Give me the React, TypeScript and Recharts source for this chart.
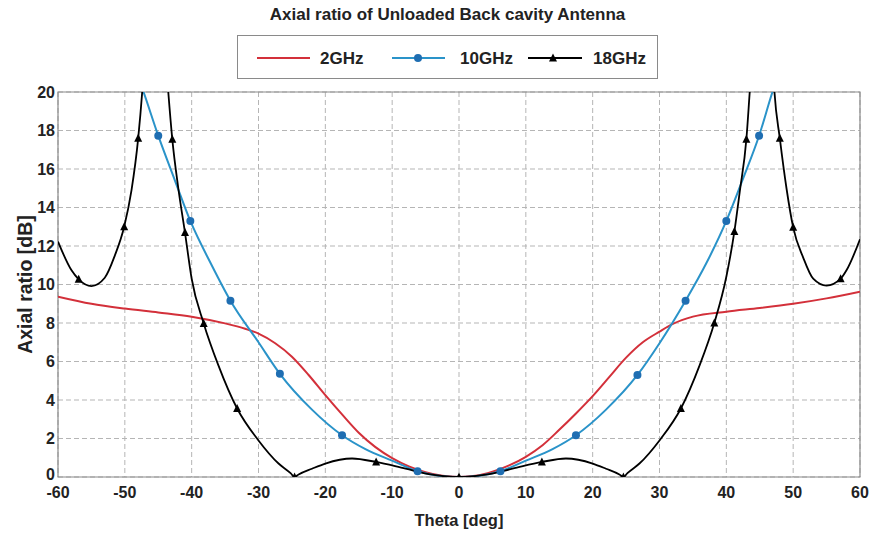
import React from "react";
import {
  LineChart,
  Line,
  XAxis,
  YAxis,
  CartesianGrid,
  ReferenceArea,
  Legend,
  Label,
} from "recharts";

// 2 GHz
const THETA_2G = [
  -60, -55, -50, -45, -40, -35, -32, -30, -27.5, -25, -22.5, -20, -17.5, -15, -12.5, -10, -7.5, -5, -2.5, 0,
  2.5, 5, 7.5, 10, 12.5, 15, 17.5, 20, 22.5, 25, 27.5, 30, 32, 35, 40, 45, 50, 55, 60,
];
const AR_2G = [
  9.37, 9.0, 8.75, 8.55, 8.33, 7.98, 7.7, 7.45, 6.95, 6.25, 5.3, 4.25, 3.25, 2.3, 1.55, 0.98, 0.55, 0.25, 0.06, 0,
  0.06, 0.27, 0.6, 1.05, 1.65, 2.45, 3.3, 4.2, 5.2, 6.2, 7.0, 7.55, 7.95, 8.33, 8.59, 8.78, 9.0, 9.28, 9.63,
];

// 10 GHz
const THETA_10G = [
  -50, -47.2, -45, -42.5, -40.2, -37, -34.2, -30, -26.8, -22, -17.5, -14, -10, -6.2, -3, 0,
  3, 6.2, 10, 14, 17.5, 22, 26.7, 30, 33.9, 37, 40, 42.5, 44.9, 46.9, 50,
];
const AR_10G = [
  22.6, 20, 17.73, 15.4, 13.3, 11.0, 9.16, 7.0, 5.36, 3.5, 2.17, 1.45, 0.85, 0.3, 0.07, 0,
  0.07, 0.3, 0.85, 1.45, 2.17, 3.5, 5.3, 6.95, 9.16, 11.1, 13.3, 15.5, 17.73, 20, 23,
];
const MARK_10G = [-45, -40.2, -34.2, -26.8, -17.5, -6.2, 6.2, 17.5, 26.7, 33.9, 40, 44.9];

// 18 GHz
const THETA_18G = [
  -60, -58, -56.9, -55, -53, -51.5, -50.1, -49, -48, -47.4, -46.5, -45.5, -44.5, -43.5, -42.9, -42, -41, -40,
  -38.2, -36, -33.2, -30, -27, -25.2, -24.6, -24, -22, -20, -16, -12.4, -8, -4, 0,
  4, 8, 12.4, 16, 20, 22, 24, 24.6, 25.2, 27, 30, 33.2, 36, 38.2, 40, 41.2, 42, 43, 43.5, 44.5, 45.5, 46.5,
  47.2, 48, 49, 50, 51.5, 53, 55, 57.1, 58, 60,
];
const AR_18G = [
  12.23, 10.75, 10.27, 9.92, 10.35, 11.5, 13.0, 14.9, 17.6, 20, 25, 32, 25, 20, 17.55, 15, 12.7, 10.3,
  7.98, 5.8, 3.56, 1.9, 0.7, 0.2, 0, 0.13, 0.43, 0.7, 0.96, 0.78, 0.43, 0.12, 0,
  0.12, 0.43, 0.78, 0.96, 0.7, 0.43, 0.13, 0, 0.2, 0.7, 1.9, 3.56, 5.8, 8.0, 10.4, 12.75, 14.8, 17.55, 20, 25, 32, 25,
  20, 17.6, 15, 12.97, 11.4, 10.3, 9.94, 10.3, 10.75, 12.35,
];
const MARK_18G = [-56.9, -50.1, -48, -42.9, -41, -38.2, -33.2, -24.6, -12.4, 0, 12.4, 24.6, 33.2, 38.2, 41.2, 43, 48, 50, 57.1];

const X_TICKS = [-60, -50, -40, -30, -20, -10, 0, 10, 20, 30, 40, 50, 60];
const Y_TICKS = [0, 2, 4, 6, 8, 10, 12, 14, 16, 18, 20];

const RED = "#d3303a";
const BLUE = "#2a93c9";
const BLUE_DOT = "#1f6eb2";
const FONT = "'Liberation Sans', Arial, sans-serif";

const toRows = (thetas: number[], values: number[], marks: number[]) =>
  thetas.map((t, i) => ({ theta: t, ar: values[i], mark: marks.includes(t) }));

const rows2 = toRows(THETA_2G, AR_2G, []);
const rows10 = toRows(THETA_10G, AR_10G, MARK_10G);
const rows18 = toRows(THETA_18G, AR_18G, MARK_18G);

const CircleDot = (props: any) => {
  const { cx, cy, payload, index } = props;
  if (!payload?.mark) return <g key={`c${index}`} />;
  return <circle key={`c${index}`} cx={cx} cy={cy} r={4} fill={BLUE_DOT} />;
};

const TriDot = (props: any) => {
  const { cx, cy, payload, index } = props;
  if (!payload?.mark) return <g key={`t${index}`} />;
  return (
    <path
      key={`t${index}`}
      d={`M${cx},${cy - 4.5} L${cx + 4},${cy + 3.5} L${cx - 4},${cy + 3.5} Z`}
      fill="#000"
    />
  );
};

// y tick; the "0" is nudged up a little so it does not run into "-60"
const YTick = (props: any) => {
  const { x, y, payload } = props;
  return (
    <text
      x={x}
      y={payload.value === 0 ? y - 3 : y}
      dy="0.355em"
      textAnchor="end"
      style={{ fontFamily: FONT, fontWeight: 700, fontSize: 16, fill: "#222" }}
    >
      {payload.value}
    </text>
  );
};

function LegendBox() {
  const txt = { fontFamily: FONT, fontWeight: 700, fontSize: 17, fill: "#222" };
  return (
    <svg width={421} height={44}>
      <rect x={0.5} y={0.5} width={420} height={43} fill="#fff" stroke="#8a8a8a" />
      <line x1={20} x2={73} y1={23} y2={23} stroke={RED} strokeWidth={2} />
      <text x={83} y={29} {...txt}>2GHz</text>
      <line x1={155} x2={208} y1={23} y2={23} stroke={BLUE} strokeWidth={2} />
      <circle cx={181} cy={23} r={4} fill={BLUE_DOT} />
      <text x={223} y={29} {...txt}>10GHz</text>
      <line x1={291} x2={345} y1={23} y2={23} stroke="#000" strokeWidth={2} />
      <path d="M316,18.5 L320,26.5 L312,26.5 Z" fill="#000" />
      <text x={356} y={29} {...txt}>18GHz</text>
    </svg>
  );
}

export default function App() {
  const tick = { fontFamily: FONT, fontWeight: 700, fontSize: 16, fill: "#222" };
  return (
    <div style={{ position: "absolute", left: 0, top: 0, width: 873, height: 535, background: "#fff" }}>
      <div
        style={{
          position: "absolute",
          top: 5,
          left: 0,
          width: 895,
          textAlign: "center",
          fontFamily: FONT,
          fontWeight: 700,
          fontSize: 17,
          color: "#222",
        }}
      >
        Axial ratio of Unloaded Back cavity Antenna
      </div>
      <LineChart width={873} height={535} margin={{ top: 92, right: 13, bottom: 0, left: 0 }}>
        <CartesianGrid stroke="#b5b5b5" strokeDasharray="5 3" />
        <XAxis
          dataKey="theta"
          type="number"
          domain={[-60, 60]}
          ticks={X_TICKS}
          allowDataOverflow
          height={58}
          axisLine={false}
          tickLine={false}
          tickSize={0}
          tickMargin={10}
          tick={tick}
        >
          <Label
            content={({ viewBox }: any) => (
              <text
                x={viewBox.x + viewBox.width / 2}
                y={viewBox.y + 49}
                textAnchor="middle"
                style={{ fontFamily: FONT, fontWeight: 700, fontSize: 16.5, fill: "#222" }}
              >
                Theta [deg]
              </text>
            )}
          />
        </XAxis>
        <YAxis
          type="number"
          domain={[0, 20]}
          ticks={Y_TICKS}
          allowDataOverflow
          width={58}
          axisLine={false}
          tickLine={false}
          tickSize={0}
          tickMargin={3}
          tick={YTick}
        >
          <Label
            content={({ viewBox }: any) => {
              const x = 32;
              const y = viewBox.y + viewBox.height / 2;
              return (
                <text
                  x={x}
                  y={y}
                  textAnchor="middle"
                  transform={`rotate(-90 ${x} ${y})`}
                  style={{ fontFamily: FONT, fontWeight: 700, fontSize: 19.5, fill: "#222" }}
                >
                  Axial ratio [dB]
                </text>
              );
            }}
          />
        </YAxis>
        <ReferenceArea x1={-60} x2={60} y1={0} y2={20} fill="none" stroke="#8a8a8a" strokeWidth={1.2} />
        <Legend
          layout="horizontal"
          verticalAlign="middle"
          align="center"
          wrapperStyle={{ top: 35, left: 237, width: 421, height: 44 }}
          content={() => <LegendBox />}
        />
        <Line
          data={rows2}
          dataKey="ar"
          name="2GHz"
          type="monotone"
          stroke={RED}
          strokeWidth={2}
          dot={false}
          isAnimationActive={false}
        />
        <Line
          data={rows10}
          dataKey="ar"
          name="10GHz"
          type="monotone"
          stroke={BLUE}
          strokeWidth={2}
          dot={CircleDot}
          isAnimationActive={false}
        />
        <Line
          data={rows18}
          dataKey="ar"
          name="18GHz"
          type="monotone"
          stroke="#000"
          strokeWidth={1.8}
          dot={TriDot}
          isAnimationActive={false}
        />
      </LineChart>
    </div>
  );
}
